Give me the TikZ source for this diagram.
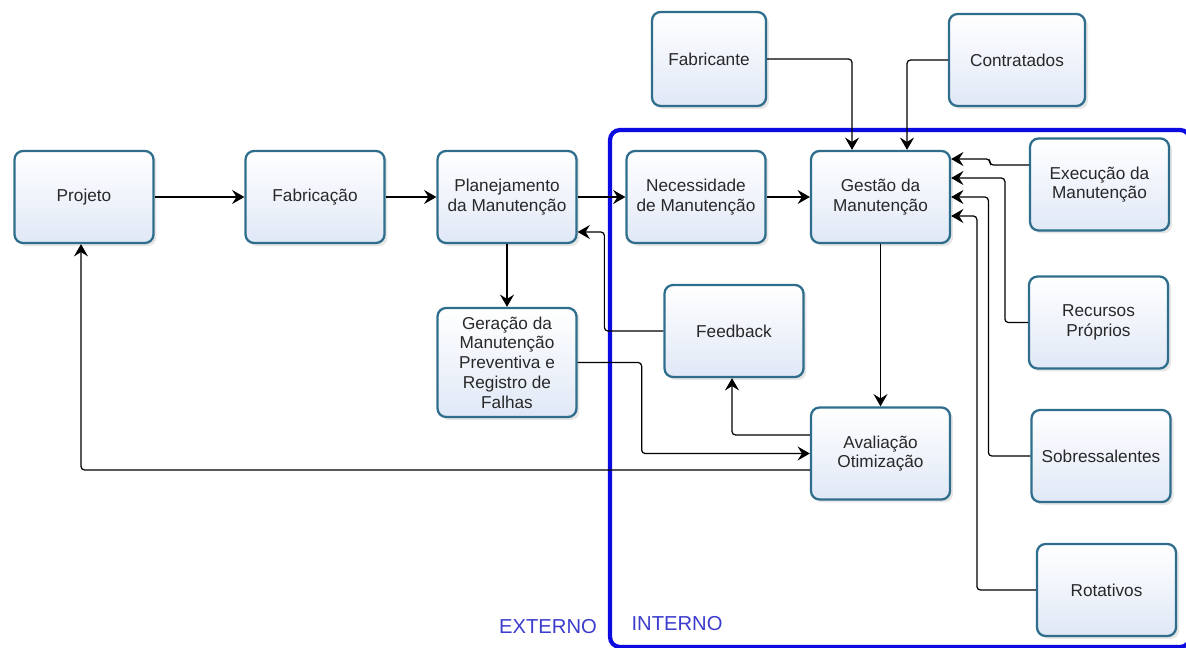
\documentclass[tikz,border=0pt]{standalone}
\usepackage{fontspec}
\setmainfont{Liberation Sans}
\usepackage{tikz}
\usetikzlibrary{arrows.meta, positioning, shadows}
\definecolor{boxline}{RGB}{46,110,140}
\definecolor{boxfill}{RGB}{224,232,246}
\definecolor{boxtext}{RGB}{40,40,40}
\definecolor{frameblue}{RGB}{10,10,225}
\definecolor{labelblue}{RGB}{60,60,205}

\begin{document}
\begin{tikzpicture}[
        x=0.02cm, y=-0.02cm,
        block/.style={rectangle, draw=boxline, line width=1.3pt, rounded corners=0.17cm, align=center,
            minimum width=2.78cm, minimum height=1.84cm, top color=white, bottom color=boxfill,
            text=boxtext, font=\fontsize{9.8}{11.2}\selectfont,
            drop shadow={shadow xshift=0.06cm, shadow yshift=-0.06cm, opacity=0.2, fill=gray}},
        arrow/.style={-{Stealth[length=7pt, width=8pt, inset=2.5pt]}, line width=0.7pt, rounded corners=2pt},
        frame/.style={draw=frameblue, line width=2.4pt, rounded corners=0.2cm},
        side/.style={text=labelblue, font=\fontsize{11.5}{13}\selectfont}
        ]
        \useasboundingbox (0,0) rectangle (1186,648);

        % Nodes
        \node (projeto) [block] at (84,197) {Projeto};
        \node (fabricacao) [block] at (315,197) {Fabricação};
        \node (planejamento) [block] at (507,197) {Planejamento\\da Manutenção};
        \node (geracao) [block, minimum height=2.18cm] at (507,362.5) {Geração da\\Manutenção\\Preventiva e\\Registro de\\Falhas};
        \node (necessidade) [block] at (696,197) {Necessidade\\de Manutenção};
        \node (gestao) [block] at (880.5,197) {Gestão da\\Manutenção};
        \node (fabricante) [block, minimum width=2.28cm, minimum height=1.88cm] at (709,59) {Fabricante};
        \node (contratados) [block, minimum width=2.72cm] at (1017,60) {Contratados};
        \node (execucao) [block] at (1099.5,184.5) {Execução da\\Manutenção};
        \node (feedback) [block] at (734,331) {Feedback};
        \node (avaliacao) [block] at (880.5,453.5) {Avaliação\\Otimização};
        \node (recursos) [block] at (1098.5,322.5) {Recursos\\Próprios};
        \node (sobressalentes) [block] at (1101,456) {Sobressalentes};
        \node (rotativos) [block] at (1106.5,590) {Rotativos};

        % Frame and labels
        \draw [frame] (610,130) rectangle (1190,647);
        \node (externo) [side] at (548,627) {EXTERNO};
        \node (interno) [side] at (677,624) {INTERNO};

        % Arrows
        \draw [arrow] (projeto) -- (fabricacao);
        \draw [arrow] (fabricacao) -- (planejamento);
        \draw [arrow] (planejamento) -- (necessidade);
        \draw [arrow] (necessidade) -- (gestao);
        \draw [arrow] (planejamento) -- (geracao);
        \draw [arrow] (gestao) -- (avaliacao);
        \draw [arrow] (fabricante.east) -| ([xshift=-0.57cm]gestao.north);
        \draw [arrow] (contratados.west) -| ([xshift=0.53cm]gestao.north);
        \draw [arrow] ([yshift=0.39cm]execucao.west) -- ++(-39,0) |- ([yshift=0.76cm]gestao.east);
        \draw [arrow] (recursos.west) -- ++(-23,0) |- ([yshift=0.38cm]gestao.east);
        \draw [arrow] (sobressalentes.west) -- ++(-42,0) |- (gestao.east);
        \draw [arrow] (rotativos.west) -- ++(-59,0) |- ([yshift=-0.38cm]gestao.east);
        \draw [arrow] ([yshift=0.37cm]avaliacao.west) -| ([xshift=-0.04cm]feedback.south);
        \draw [arrow] (geracao.east) -- ++(64,0) |- (avaliacao.west);
        \draw [arrow] ([yshift=-0.33cm]avaliacao.west) -| ([xshift=-0.06cm]projeto.south);
        \draw [arrow] (feedback.west) -- ++(-59,0) |- ([yshift=-0.7cm]planejamento.east);

    \end{tikzpicture}
\end{document}
